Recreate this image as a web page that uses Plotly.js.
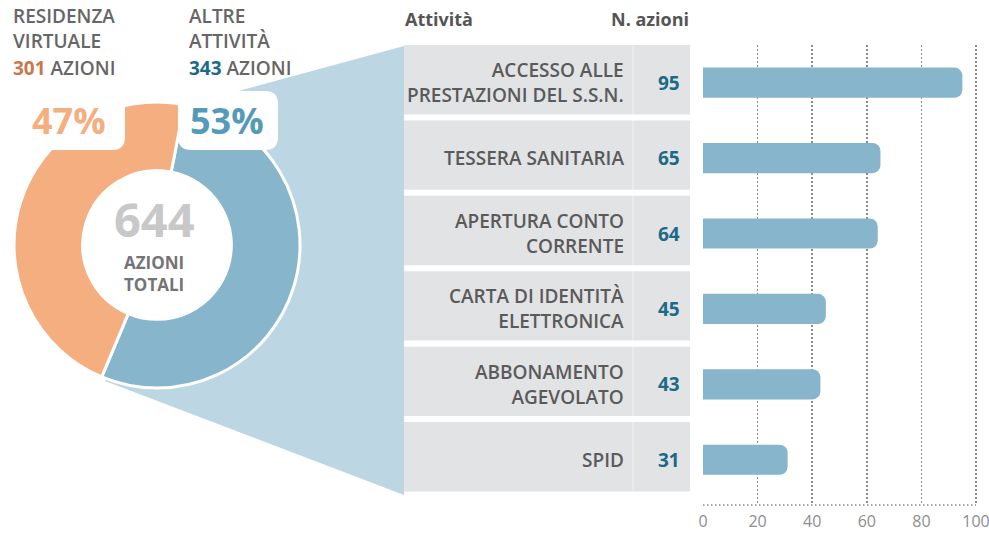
<!DOCTYPE html>
<html>
<head>
<meta charset="utf-8">
<script src="https://cdn.plot.ly/plotly-3.0.1.min.js"></script>
<style>html,body{margin:0;padding:0;background:#fff;}#chart{width:989px;height:534px;}</style>
</head>
<body>
<div id="chart"></div>
<script>
// ---- data ----
const groups = ["ALTRE<br>ATTIVITÀ", "RESIDENZA<br>VIRTUALE"];
const groupActions = [343, 301];
const activities = [
  "ACCESSO ALLE<br>PRESTAZIONI DEL S.S.N.",
  "TESSERA SANITARIA",
  "APERTURA CONTO<br>CORRENTE",
  "CARTA DI IDENTITÀ<br>ELETTRONICA",
  "ABBONAMENTO<br>AGEVOLATO",
  "SPID"
];
const actions = [95, 65, 64, 45, 43, 31];
const xTicks = [0, 20, 40, 60, 80, 100];
const headers = ["Attività", "N. azioni"];
const totalLabel = "AZIONI<br>TOTALI";
const unitLabel = "AZIONI";

// ---- styles ----
const W = 989, H = 534;
const FONT = '"Open Sans", Lato, sans-serif';
const BLUE = '#87B5CB', ORANGE = '#F5AE80', LIGHTBLUE = '#BCD6E3', ROWGRAY = '#E2E3E5';
const TEAL = '#1B6A86', BROWN = '#C8784A', TXT = '#5a5a5a';
const px = x => x / W;
const py = y => 1 - y / H;

function rrect(x0, y0, x1, y1, r) {
  return `M ${px(x0 + r)},${py(y0)} L ${px(x1 - r)},${py(y0)} Q ${px(x1)},${py(y0)} ${px(x1)},${py(y0 + r)} ` +
    `L ${px(x1)},${py(y1 - r)} Q ${px(x1)},${py(y1)} ${px(x1 - r)},${py(y1)} ` +
    `L ${px(x0 + r)},${py(y1)} Q ${px(x0)},${py(y1)} ${px(x0)},${py(y1 - r)} ` +
    `L ${px(x0)},${py(y0 + r)} Q ${px(x0)},${py(y0)} ${px(x0 + r)},${py(y0)} Z`;
}
function poly(pts) {
  return 'M ' + pts.map(p => `${px(p[0])},${py(p[1])}`).join(' L ') + ' Z';
}

const total = groupActions.reduce((a, b) => a + b, 0);
const pct = groupActions.map(v => Math.round(v / total * 100) + '%');

// ---- traces ----
const pie = {
  type: 'pie',
  values: groupActions,
  labels: groups,
  sort: false,
  direction: 'clockwise',
  rotation: 11,
  hole: 0.52,
  textinfo: 'none',
  hoverinfo: 'none',
  marker: { colors: [BLUE, ORANGE], line: { color: '#ffffff', width: 3 } },
  domain: { x: [px(14), px(300)], y: [py(388), py(102)] },
  showlegend: false
};

const bars = {
  type: 'bar',
  orientation: 'h',
  x: actions,
  y: activities,
  width: 0.4,
  marker: { color: BLUE, cornerradius: 8 },
  hoverinfo: 'none',
  showlegend: false
};

// ---- shapes ----
const DOT = '1.5px,2.5px';
const shapes = [];
shapes.push({
  type: 'path', xref: 'paper', yref: 'paper', layer: 'below',
  path: poly([[404, 46], [404, 495], [105, 381], [118, 347], [200, 336], [257, 245], [190, 150], [200, 130], [200, 101.5]]),
  fillcolor: LIGHTBLUE, line: { width: 0 }
});
activities.forEach((a, i) => {
  shapes.push({
    type: 'rect', xref: 'paper', yref: 'y', layer: 'below',
    x0: px(404), x1: px(690), y0: i - 0.5, y1: i + 0.42,
    fillcolor: ROWGRAY, line: { width: 0 }
  });
});
shapes.push({
  type: 'line', xref: 'paper', yref: 'y', layer: 'below',
  x0: px(633), x1: px(633), y0: -0.5, y1: 5.42,
  line: { color: 'rgba(255,255,255,0.6)', width: 1 }
});
shapes.push({
  type: 'line', xref: 'x', yref: 'y domain', layer: 'below',
  x0: 0, x1: 100, y0: 0, y1: 0,
  line: { color: '#8a8a8a', width: 1.5, dash: DOT }
});
shapes.push({ type: 'path', xref: 'paper', yref: 'paper', layer: 'above',
  path: rrect(-20, 86, 125, 150, 13), fillcolor: '#ffffff', line: { width: 0 } });
shapes.push({ type: 'path', xref: 'paper', yref: 'paper', layer: 'above',
  path: rrect(178, 91, 278, 150, 13), fillcolor: '#ffffff', line: { width: 0 } });

// ---- annotations ----
const ann = [];
function A(o) { ann.push(Object.assign({ showarrow: false, xref: 'paper', yref: 'paper' }, o)); }

const topFont = { family: FONT, size: 19, color: '#666', weight: 600 };
A({ x: px(11), y: py(28), xanchor: 'left', yanchor: 'middle', align: 'left', text: groups[1], font: topFont });
A({ x: px(187), y: py(28), xanchor: 'left', yanchor: 'middle', align: 'left', text: groups[0], font: topFont });
A({ x: px(11), y: py(68), xanchor: 'left', yanchor: 'middle', align: 'left',
    text: `<b><span style="color:${BROWN}">${groupActions[1]}</span></b> ${unitLabel}`, font: topFont });
A({ x: px(187), y: py(68), xanchor: 'left', yanchor: 'middle', align: 'left',
    text: `<b><span style="color:${TEAL}">${groupActions[0]}</span></b> ${unitLabel}`, font: topFont });
A({ x: px(69), y: py(120), xanchor: 'center', yanchor: 'middle', text: `<b>${pct[1]}</b>`,
    font: { family: FONT, size: 36, color: ORANGE } });
A({ x: px(227), y: py(120), xanchor: 'center', yanchor: 'middle', text: `<b>${pct[0]}</b>`,
    font: { family: FONT, size: 36, color: '#559BB9' } });
A({ x: px(154), y: py(219), xanchor: 'center', yanchor: 'middle', text: `<b>${total}</b>`,
    font: { family: FONT, size: 47, color: '#C8C8C8' } });
A({ x: px(154), y: py(273), xanchor: 'center', yanchor: 'middle', text: `<b>${totalLabel}</b>`,
    font: { family: FONT, size: 17, color: '#747474' } });
A({ x: px(403), y: py(19), xanchor: 'left', yanchor: 'middle', text: `<b>${headers[0]}</b>`,
    font: { family: FONT, size: 18, color: '#555' } });
A({ x: px(691), y: py(19), xanchor: 'right', yanchor: 'middle', text: `<b>${headers[1]}</b>`,
    font: { family: FONT, size: 18, color: '#555' } });
activities.forEach((a, i) => {
  A({ yref: 'y', x: px(626), y: i, xanchor: 'right', yanchor: 'middle', align: 'right', text: a,
      font: { family: FONT, size: 19, color: TXT, weight: 600 } });
  A({ yref: 'y', x: px(669), y: i, xanchor: 'center', yanchor: 'middle', text: `<b>${actions[i]}</b>`,
      font: { family: FONT, size: 19, color: TEAL } });
});

const layout = {
  width: W, height: H,
  margin: { l: 0, r: 0, t: 0, b: 0, pad: 0 },
  paper_bgcolor: '#ffffff',
  plot_bgcolor: 'rgba(0,0,0,0)',
  font: { family: FONT },
  showlegend: false,
  xaxis: {
    domain: [px(703), px(977.4)],
    range: [0, 100.5],
    tickvals: xTicks,
    ticktext: xTicks.map(String),
    showgrid: true, gridcolor: '#8a8a8a', gridwidth: 1.5, griddash: DOT,
    zeroline: false, showline: false, ticks: '',
    ticklabeloverflow: 'allow',
    ticklabelstandoff: 5,
    tickfont: { family: FONT, size: 16, color: '#8d8d8d' },
    fixedrange: true
  },
  yaxis: {
    domain: [py(505), py(45)],
    type: 'category',
    categoryorder: 'array', categoryarray: activities,
    range: [5.6, -0.5],
    showticklabels: false, showgrid: false, zeroline: false, showline: false, ticks: '',
    fixedrange: true
  },
  shapes: shapes,
  annotations: ann
};

Plotly.newPlot('chart', [pie, bars], layout, { displayModeBar: false, staticPlot: true });
</script>
</body>
</html>
